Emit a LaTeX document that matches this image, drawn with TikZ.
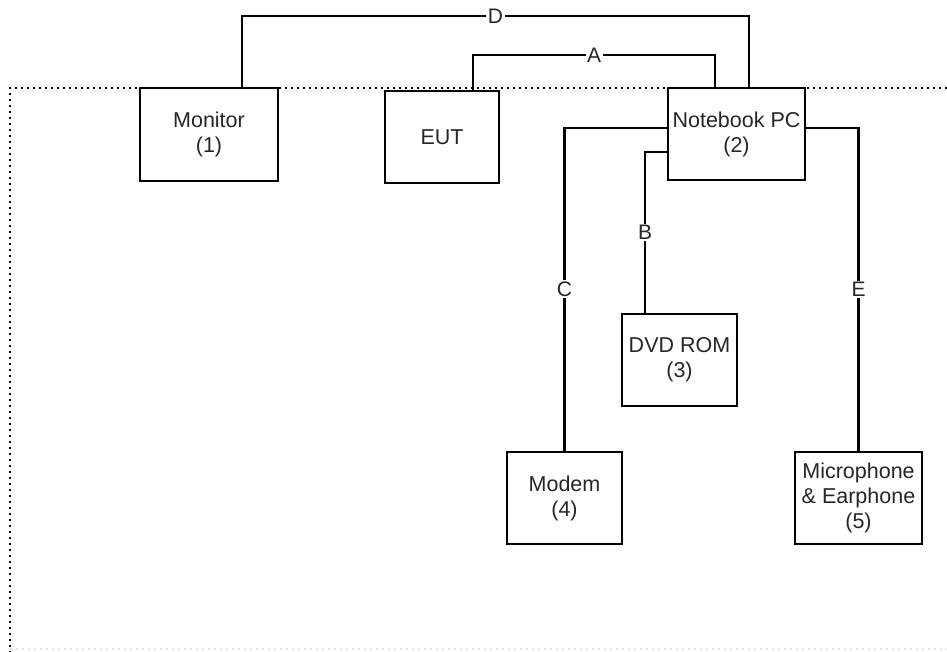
\documentclass[tikz,border=0pt]{standalone}
\usepackage{fontspec}
\setmainfont{Liberation Sans}
\begin{document}
\begin{tikzpicture}[x=1pt,y=-1pt,
  box/.style={draw=black,line width=2.8pt,align=center,inner sep=0pt,
    font=\fontsize{21.5}{25}\selectfont,text=black!85},
  wire/.style={draw=black,line width=2.4pt},
  lbl/.style={fill=white,inner sep=1.5pt,font=\fontsize{21}{24}\selectfont,text=black!85},
  frame/.style={line width=1.8pt,dash pattern=on 1.6pt off 4.4pt}]
\useasboundingbox (0,0) rectangle (947,652);
\draw[frame] (947,88) -- (10,88) -- (10,652);
\draw[frame,black!12] (10,649) -- (947,649);
\node[box,minimum width=138pt,minimum height=93pt] (mon) at (209,134.5) {Monitor\\(1)};
\node[box,minimum width=114pt,minimum height=92pt] (eut) at (442,137) {EUT};
\node[box,minimum width=137pt,minimum height=92pt] (nb) at (736.5,134) {Notebook PC\\(2)};
\node[box,minimum width=115pt,minimum height=92pt] (dvd) at (679.5,360) {DVD ROM\\(3)};
\node[box,minimum width=115pt,minimum height=92pt] (mod) at (564.5,498) {Modem\\(4)};
\node[box,minimum width=127pt,minimum height=92pt] (mic) at (858.5,498) {Microphone\\\& Earphone\\(5)};
% D
\coordinate (d1) at (242,16); \coordinate (d2) at (749,16);
\draw[wire] (d1 |- mon.north) -- (d1) -- node[lbl]{D} (d2) -- (d2 |- nb.north);
% A
\coordinate (a1) at (473,55); \coordinate (a2) at (715,55);
\draw[wire] (a1 |- eut.north) -- (a1) -- node[lbl]{A} (a2) -- (a2 |- nb.north);
% C
\coordinate (c0) at (0,128);
\draw[wire] (nb.west |- c0) -| node[lbl,pos=0.75]{C} (mod.north);
% B
\coordinate (b1) at (645,152);
\draw[wire] (nb.west |- b1) -- (b1) -- node[lbl]{B} (b1 |- dvd.north);
% E
\draw[wire] (nb.east |- c0) -| node[lbl,pos=0.75]{E} (mic.north);
\end{tikzpicture}
\end{document}
